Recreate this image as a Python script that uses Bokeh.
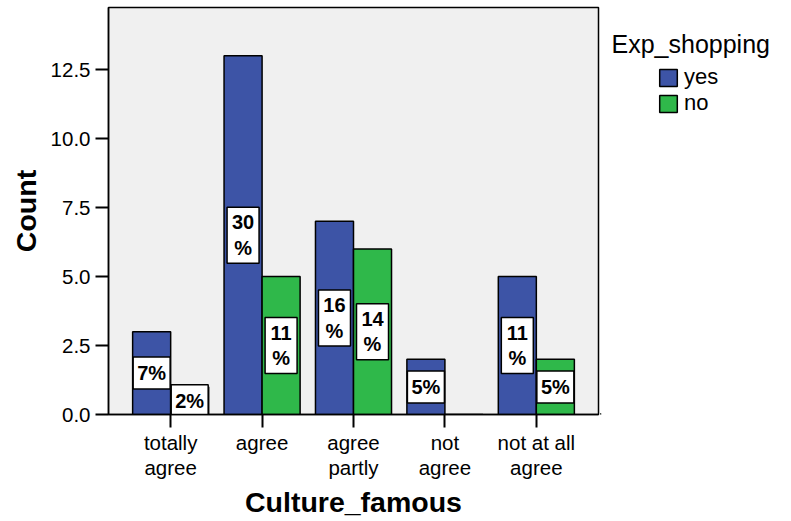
from bokeh.plotting import figure
from bokeh.layouts import row
from bokeh.models import (ColumnDataSource, FixedTicker, PrintfTickFormatter,
                          Legend, LegendItem, Label, Range1d)
from bokeh.core.properties import value
from bokeh.embed import file_html
from bokeh.resources import INLINE

categories = ["totally\nagree", "agree", "agree\npartly", "not\nagree", "not at all\nagree"]
series_names = ["yes", "no"]
yes_counts = [3, 13, 7, 2, 5]
no_counts = [1, 5, 6, 0, 2]
y_ticks = [0, 2.5, 5, 7.5, 10, 12.5]
legend_title = "Exp_shopping"
x_title = "Culture_famous"
y_title = "Count"

BLUE = "#3d54a6"
GREEN = "#2fb84a"
FONT = "Liberation Sans"

total = sum(yes_counts) + sum(no_counts)
idx = list(range(len(categories)))
off = 0.208
bw = 0.416

p = figure(width=600, height=521, output_backend="svg", toolbar_location=None,
           x_range=Range1d(-0.68, 4.68), y_range=Range1d(0, 14.75),
           min_border_left=108, min_border_top=7, min_border_right=2,
           min_border_bottom=107)
p.background_fill_color = "#f0f0f0"
p.border_fill_color = "white"
p.outline_line_color = "black"
p.outline_line_width = 1.5
p.xgrid.visible = False
p.ygrid.visible = False

src_yes = ColumnDataSource(dict(x=[i - off for i in idx], top=yes_counts))
src_no = ColumnDataSource(dict(x=[i + off for i in idx], top=no_counts))
p.vbar(x="x", top="top", width=bw, source=src_yes, fill_color=BLUE,
       line_color="black", line_width=1.5)
p.vbar(x="x", top="top", width=bw, source=src_no, fill_color=GREEN,
       line_color="black", line_width=1.5)

# percentage labels
lx, ly, lt, lw, lh = [], [], [], [], []
for i in idx:
    for xo, v in ((-off, yes_counts[i]), (off, no_counts[i])):
        if v <= 0:
            continue
        pct = round(100 * v / total)
        if pct >= 10:
            lt.append(f"{pct}\n%")
            lw.append(32)
            lh.append(56)
        else:
            lt.append(f"{pct}%")
            lw.append(37)
            lh.append(32)
        lx.append(i + xo)
        ly.append(v / 2)
lsrc = ColumnDataSource(dict(x=lx, y=ly, t=lt, w=lw, h=lh))
p.rect(x="x", y="y", width="w", height="h", width_units="screen",
       height_units="screen", source=lsrc, fill_color="white",
       line_color="black", line_width=1.5)
p.text(x="x", y="y", text="t", source=lsrc, text_align="center",
       text_baseline="middle", text_font=value(FONT), text_font_style="bold",
       text_font_size="20px", text_color="black", text_line_height=1.15)

# axes
p.xaxis.ticker = FixedTicker(ticks=idx)
p.xaxis.major_label_overrides = {i: c for i, c in zip(idx, categories)}
p.yaxis.ticker = FixedTicker(ticks=y_ticks)
p.yaxis.formatter = PrintfTickFormatter(format="%.1f")
for ax in (p.xaxis[0], p.yaxis[0]):
    ax.axis_line_color = "black"
    ax.axis_line_width = 1.5
    ax.major_tick_line_color = "black"
    ax.major_tick_line_width = 2
    ax.major_tick_out = 13
    ax.major_tick_in = 0
    ax.minor_tick_line_color = None
    ax.major_label_text_font = FONT
    ax.major_label_text_font_size = "20.5px"
    ax.major_label_text_color = "black"
    ax.major_label_text_line_height = 1.1
    ax.axis_label_text_font = FONT
    ax.axis_label_text_font_style = "bold"
    ax.axis_label_text_font_size = "28.5px"
    ax.axis_label_text_color = "black"
p.xaxis.axis_label = x_title
p.yaxis.axis_label = y_title
p.xaxis.major_label_standoff = 3
p.yaxis.major_label_standoff = 5
p.xaxis.axis_label_standoff = 4
p.yaxis.axis_label_standoff = 6

# legend panel (swatch renderers sit outside the visible range)
p2 = figure(width=191, height=521, output_backend="svg", toolbar_location=None,
            x_range=Range1d(0, 191), y_range=Range1d(0, 521),
            min_border=0, outline_line_color=None)
p2.axis.visible = False
p2.grid.visible = False
swatch = ColumnDataSource(dict(x=[-1000], top=[1]))
g_yes = p2.vbar(x="x", top="top", width=1, source=swatch, fill_color=BLUE,
                line_color="black", line_width=1.5)
g_no = p2.vbar(x="x", top="top", width=1, source=swatch, fill_color=GREEN,
               line_color="black", line_width=1.5)
legend = Legend(items=[LegendItem(label=series_names[0], renderers=[g_yes]),
                       LegendItem(label=series_names[1], renderers=[g_no])],
                location="top_left", padding=0, margin=57, spacing=0,
                glyph_width=22, glyph_height=21, label_standoff=5,
                label_text_font=FONT, label_text_font_size="22px",
                label_text_color="black",
                label_height=21, border_line_color=None,
                background_fill_alpha=0)
p2.add_layout(legend, "center")
p2.add_layout(Label(x=11, y=474, text=legend_title, text_font=FONT,
                    text_font_size="25px", text_baseline="alphabetic",
                    text_color="black"))

open("out.html", "w").write(file_html(row(p, p2), INLINE))
